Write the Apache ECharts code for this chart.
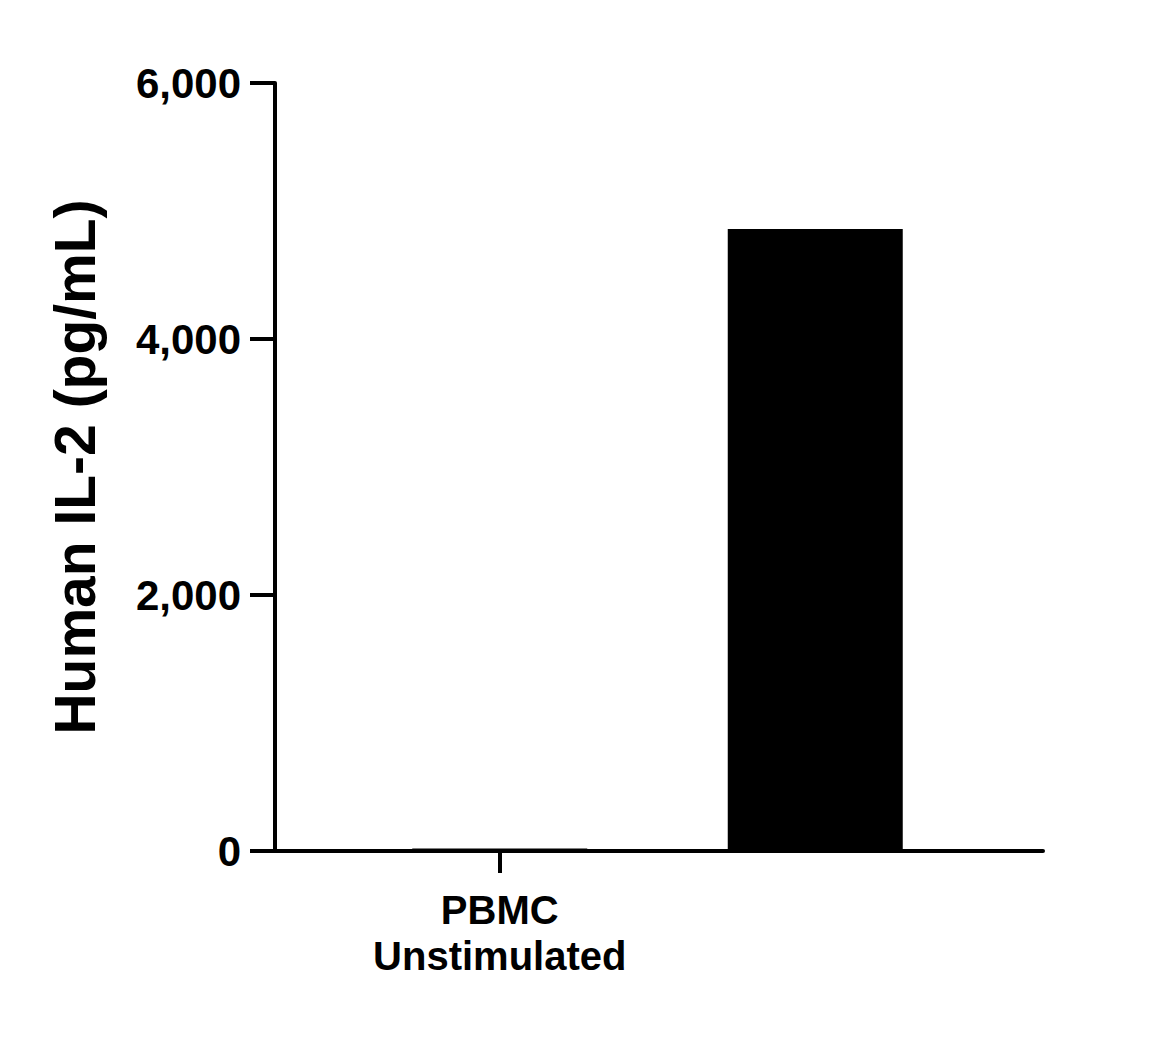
<!DOCTYPE html>
<html><head><meta charset="utf-8">
<script src="https://cdn.jsdelivr.net/npm/echarts@6/dist/echarts.min.js"></script>
<style>html,body{margin:0;background:#fff}#c{width:1176px;height:1063px}</style>
</head><body><div id="c"></div>
<script>
const categories = ['PBMC\nUnstimulated', 'PBMC\nStimulated\nwith PHA']
const values = [20, 4860]
const yTicks = { min: 0, max: 6000, interval: 2000 }

const font = 'Liberation Sans, Arial, sans-serif'
const chart = echarts.init(document.getElementById('c'), null, { renderer: 'svg' })

chart.setOption({
  animation: false,
  grid: [
    { left: 275, right: 133, top: 83, bottom: 212 },
    { left: 342, right: 203, top: 83, bottom: 212 },
  ],
  xAxis: [
    {
      gridIndex: 0, type: 'category', data: ['', ''],
      axisLine: { lineStyle: { color: '#000', width: 4 } },
      axisTick: { show: false }, axisLabel: { show: false },
    },
    {
      gridIndex: 1, type: 'category', data: categories,
      axisLine: { show: false },
      axisTick: { show: true, alignWithLabel: true, length: 22, lineStyle: { color: '#000', width: 4 } },
      axisLabel: { color: '#000', fontFamily: font, fontWeight: 'bold', fontSize: 40, lineHeight: 46, margin: 36 },
    },
  ],
  yAxis: [
    {
      gridIndex: 0, type: 'value', ...yTicks,
      name: 'Human IL-2 (pg/mL)', nameLocation: 'middle', nameGap: 172,
      nameTextStyle: { color: '#000', fontFamily: font, fontWeight: 'bold', fontSize: 57 },
      splitLine: { show: false },
      axisLine: { show: true, lineStyle: { color: '#000', width: 4 } },
      axisTick: { show: true, length: 25, lineStyle: { color: '#000', width: 4 } },
      axisLabel: {
        color: '#000', fontFamily: font, fontWeight: 'bold', fontSize: 42, margin: 34,
        formatter: (v) => v.toLocaleString('en-US'),
      },
    },
    { gridIndex: 1, type: 'value', ...yTicks, show: false, splitLine: { show: false } },
  ],
  series: [
    {
      type: 'bar', xAxisIndex: 1, yAxisIndex: 1, data: values,
      barWidth: 175, itemStyle: { color: '#000' },
    },
  ],
})
</script></body></html>
